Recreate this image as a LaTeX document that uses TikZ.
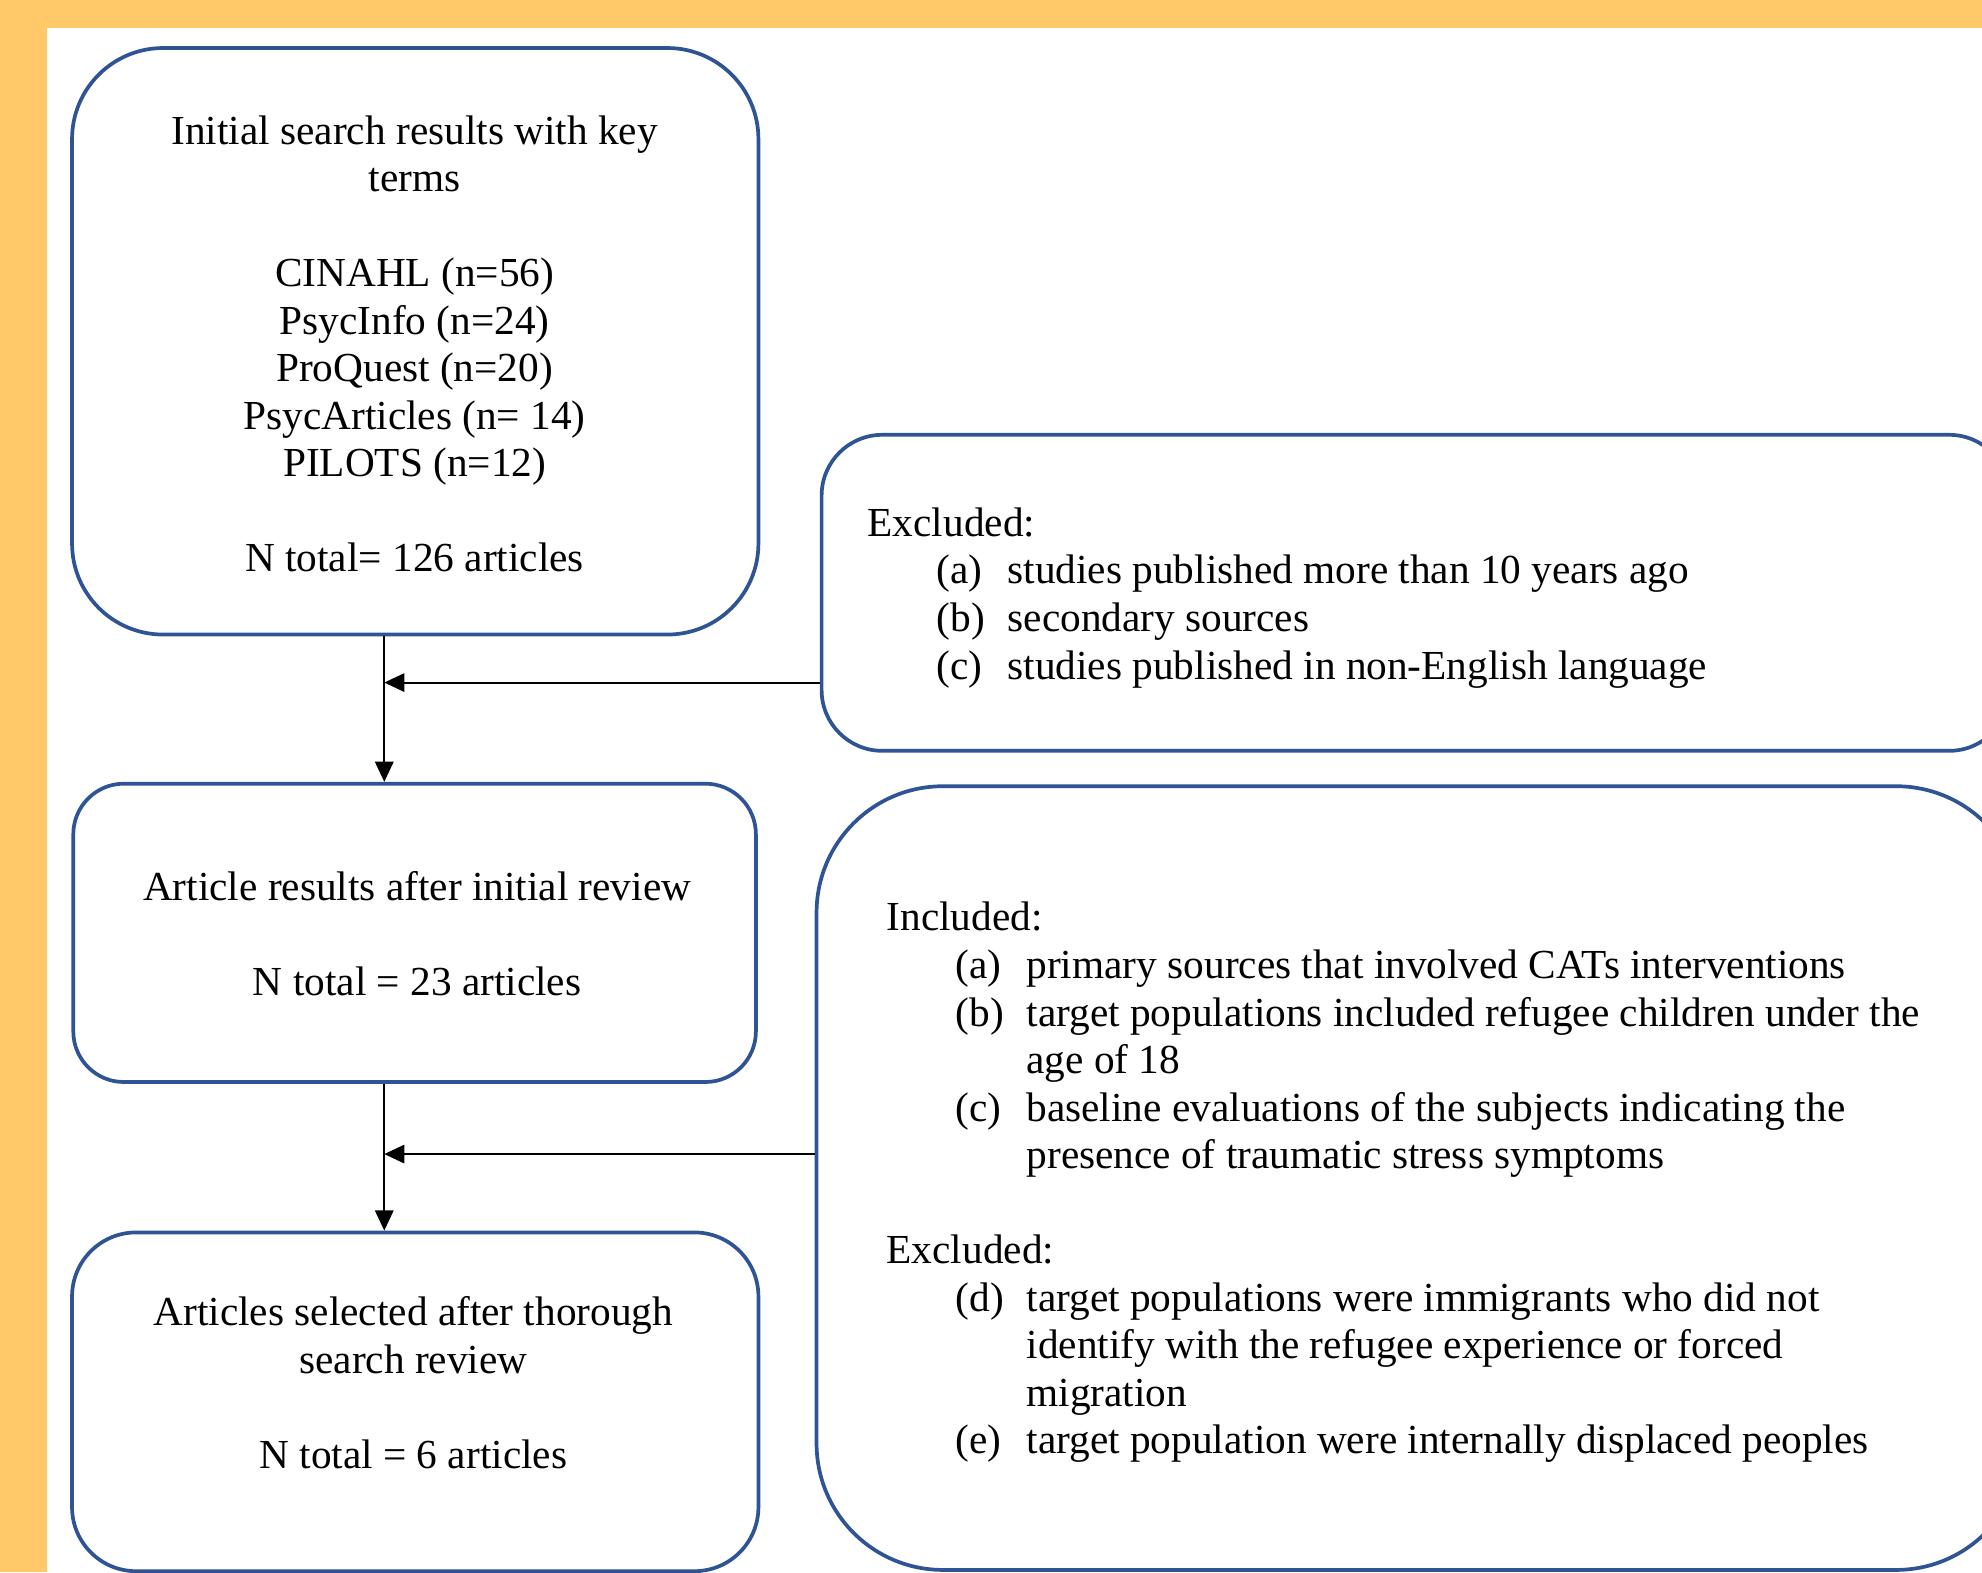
\documentclass[tikz,border=0pt]{standalone}
\usepackage{fontspec}
\setmainfont{Liberation Serif}
\usetikzlibrary{arrows.meta,fit}

\definecolor{frameorange}{RGB}{255,201,106}
\definecolor{boxblue}{RGB}{47,84,150}

\tikzset{every picture/.style={line width=0.75pt}}
\tikzset{
	roundbox/.style={draw=boxblue,line width=2.2pt,rounded corners=#1,inner sep=0pt},
	roundbox/.default=40pt,
	txt/.style={inner sep=0pt,font=\fontsize{24.5}{28.2}\selectfont},
	flow/.style={draw=black,line width=1.1pt,-{Triangle[length=12pt,width=11pt]}}
}
\newcommand{\itm}[2]{\hspace*{41pt}\makebox[42pt][l]{#1}#2}
\newcommand{\cont}[1]{\hspace*{83pt}#1}

\begin{document}
\begin{tikzpicture}[x=0.75pt,y=0.75pt,yscale=-1,xscale=1]
	\useasboundingbox (0,0) rectangle (1568,1244);
	\clip (0,0) rectangle (1568,1244);
	%Background
	\fill[frameorange] (0,0) rectangle (1568,1244);
	\fill[white] (37,22) rectangle (1568,1244);
	
	%Boxes, left column
	\node[roundbox=54pt, fit={(57,38) (600,502)}] (init) {};
	\node[roundbox=30pt, fit={(58,620) (598,856)}] (review) {};
	\node[roundbox=38pt, fit={(57,975) (600,1243)}] (sel) {};
	%Boxes, right column
	\node[roundbox=36pt, fit={(650,344) (1590,594)}] (excl) {};
	\node[roundbox=75pt, fit={(646,622) (1600,1242)}] (incl) {};
	
	%Connectors
	\coordinate (spine1) at (304,540);
	\coordinate (spine2) at (304,913);
	\draw[flow] (init.south -| spine1) -- (review.north -| spine1);
	\draw[flow] (excl.west |- spine1) -- (spine1);
	\draw[flow] (review.south -| spine2) -- (sel.north -| spine2);
	\draw[flow] (incl.west |- spine2) -- (spine2);
	
	% Text Node
	\node[txt,align=center] (initTxt) at (328,272) {Initial search results with key\\terms\\[28.2pt]CINAHL (n=56)\\PsycInfo (n=24)\\ProQuest (n=20)\\PsycArticles (n= 14)\\PILOTS (n=12)\\[28.2pt]N total= 126 articles};
	% Text Node
	\node[txt,align=center] (reviewTxt) at (330,738.5) {Article results after initial review\\[28.2pt]N total = 23 articles};
	% Text Node
	\node[txt,align=center] (selTxt) at (327,1094) {Articles selected after thorough\\search review\\[28.2pt]N total = 6 articles};
	% Text Node
	\node[txt,align=left,anchor=west] (exclTxt) at (686,473) {Excluded:\\%
		\itm{(a)}{studies published more than 10 years ago}\\%
		\itm{(b)}{secondary sources}\\%
		\itm{(c)}{studies published in non-English language}};
	% Text Node
	\node[txt,align=left,anchor=west] (inclTxt) at (701,935.5) {Included:\\%
		\itm{(a)}{primary sources that involved CATs interventions}\\%
		\itm{(b)}{target populations included refugee children under the}\\%
		\cont{age of 18}\\%
		\itm{(c)}{baseline evaluations of the subjects indicating the}\\%
		\cont{presence of traumatic stress symptoms}\\[28.2pt]%
		Excluded:\\%
		\itm{(d)}{target populations were immigrants who did not}\\%
		\cont{identify with the refugee experience or forced}\\%
		\cont{migration}\\%
		\itm{(e)}{target population were internally displaced peoples}};
\end{tikzpicture}
\end{document}
